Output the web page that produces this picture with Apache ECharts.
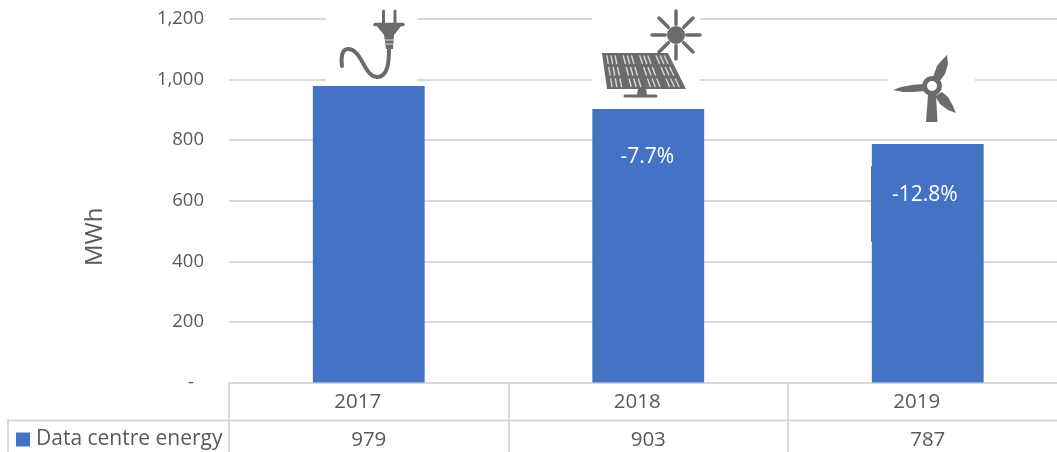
<!DOCTYPE html>
<html><head><meta charset="utf-8">
<style>html,body{margin:0;padding:0;background:#fff}#c{width:1057px;height:452px}</style>
<script src="https://cdn.jsdelivr.net/npm/echarts@6/dist/echarts.min.js"></script>
</head><body><div id="c"></div>
<script>
const categories = ['2017', '2018', '2019'];
const energy = [979, 903, 787];
const changes = ['', '-7.7%', '-12.8%'];
const seriesName = 'Data centre energy';
const yTitle = 'MWh';

const FONT = '"Open Sans", sans-serif', TXT = '#595959', GRID = '#d9d9d9', BLUE = '#4472c4', ICON = '#6b6b6b';
const chart = echarts.init(document.getElementById('c'), null, {renderer: 'canvas'});

const mask = (x, y, w, h) => ({type: 'rect', z: 5, shape: {x, y, width: w, height: h}, style: {fill: '#fff'}});
const line = (x1, y1, x2, y2, color, w) => ({type: 'line', z: 6, shape: {x1, y1, x2, y2}, style: {stroke: color, lineWidth: w, lineCap: 'round'}});
const poly = (points, fill) => ({type: 'polygon', z: 6, shape: {points}, style: {fill: fill || ICON}});
const circle = (cx, cy, r, fill) => ({type: 'circle', z: 7, shape: {cx, cy, r}, style: {fill}});
const bez = (x1, y1, cpx1, cpy1, cpx2, cpy2, x2, y2, w) => ({type: 'bezierCurve', z: 6, shape: {x1, y1, cpx1, cpy1, cpx2, cpy2, x2, y2}, style: {fill: 'none', stroke: ICON, lineWidth: w, lineCap: 'round'}});

// plug
const plug = [
  mask(326, 0, 91, 84),
  line(383.5, 11, 383.5, 23, ICON, 3), line(395, 11, 395, 23, ICON, 3),
  line(375, 24.5, 403, 24.5, ICON, 3.5),
  poly([[376, 25], [402, 25], [394, 35], [384, 35]]),
  poly([[384, 35], [394, 35], [393, 49], [386, 49]]),
  line(384, 40, 394, 40, '#ddd', 1), line(384, 44, 394, 44, '#ddd', 1),
  bez(389, 49, 389, 62, 388, 77, 377, 77, 4),
  bez(377, 77, 364, 77, 362, 49, 348, 49, 4),
  bez(348, 49, 341, 49, 341, 60, 342, 66, 4)
];
// solar panel + sun
const sun = [mask(592, 12, 108, 92), circle(676, 35, 9, ICON)];
[[-24, 0], [24, 0], [0, -24], [0, 24], [-17, -17], [17, -17], [-17, 17], [17, 17]].forEach(([dx, dy]) => {
  sun.push(line(676 + dx * 0.45, 35 + dy * 0.45, 676 + dx, 35 + dy, ICON, 3.5));
});
sun.push(poly([[602, 53], [668, 53], [686, 89], [607, 89]]));
sun.push(poly([[638, 89], [646, 89], [647, 95], [637, 95]]));
sun.push(line(625, 96, 656, 96, ICON, 3));
for (let r = 0; r < 3; r++) {
  const y0 = 56 + r * 11.5, y1 = y0 + 7.5;
  const f = y => [602.5 + (y - 53) * 0.14, 667 + (y - 53) * 0.5];
  for (let c = 0; c < 4; c++) for (let k = 0; k < 3; k++) {
    const t = (c + (k + 1) / 4) / 4;
    const a = f(y0), b = f(y1);
    sun.push(line(a[0] + (a[1] - a[0]) * t, y0, b[0] + (b[1] - b[0]) * t, y1, '#d8d8d8', 1.4));
  }
}
// wind turbine
const wind = [
  mask(888, 44, 87, 92),
  poly([[928, 95], [936, 95], [937.5, 122], [926, 122]]),
  poly([[933, 77], [937, 66], [942, 60], [947, 55], [948, 64], [945, 74], [939, 82]]),
  poly([[923, 84], [912, 85], [901, 87], [893, 90], [903, 92], [914, 92], [924, 91]]),
  poly([[942, 92], [948, 97], [953, 106], [956, 113], [948, 110], [940, 104], [935, 96]]),
  circle(932, 86, 10, ICON), circle(932, 86, 5, '#fff')
];

chart.setOption({
  animation: false,
  textStyle: {fontFamily: FONT},
  grid: {left: 229, top: 19, width: 838.5, height: 363.5, containLabel: false, outerBoundsMode: 'none'},
  legend: {
    left: 12, top: 429, itemWidth: 14, itemHeight: 14, itemGap: 0, padding: [0, 0, 0, 4],
    textStyle: {color: TXT, fontSize: 21, fontFamily: FONT, padding: [0, 0, 0, 1]},
    data: [{name: seriesName, icon: 'rect'}]
  },
  xAxis: [{
    type: 'category', data: categories, position: 'bottom',
    axisLine: {show: true, lineStyle: {color: GRID, width: 2}},
    axisTick: {show: true, length: 70, lineStyle: {color: GRID, width: 2}},
    axisLabel: {color: TXT, fontSize: 20.5, margin: 9, padding: [0, 22, 0, 0], fontFamily: FONT}
  }, {
    type: 'category', data: energy.map(String), position: 'bottom',
    axisLine: {show: false}, axisTick: {show: false},
    axisLabel: {color: TXT, fontSize: 20.5, margin: 47, fontFamily: FONT}
  }],
  yAxis: {
    type: 'value', min: 0, max: 1200, interval: 200,
    name: yTitle, nameLocation: 'middle', nameGap: 122, nameRotate: 90,
    nameTextStyle: {color: TXT, fontSize: 24, fontFamily: FONT, padding: [0, 72, 0, 0]},
    axisLine: {show: false}, axisTick: {show: false},
    axisLabel: {
      color: TXT, fontSize: 18.5, margin: 25, fontFamily: FONT,
      formatter: v => v === 0 ? '{d|-}' : v.toLocaleString('en-US'),
      rich: {d: {color: TXT, fontSize: 18.5, padding: [0, 10, 0, 0], fontFamily: FONT}}
    },
    splitLine: {show: true, lineStyle: {color: GRID, width: 2}}
  },
  series: [{
    name: seriesName, type: 'bar', xAxisIndex: 0, barWidth: '40%',
    itemStyle: {color: BLUE},
    data: energy.map((v, i) => ({
      value: v,
      label: {
        show: !!changes[i], formatter: changes[i], position: 'insideTop', distance: 38,
        offset: i === 2 ? [-3, 2] : [-1, 0], color: '#fff', fontSize: 21, fontFamily: FONT
      }
    }))
  }],
  graphic: [
    line(8, 420.5, 1057, 420.5, GRID, 2), line(8, 420, 8, 452, GRID, 2),
    ...plug, ...sun, ...wind,
    {type: 'rect', z: 4, shape: {x: 871, y: 166, width: 3, height: 76}, style: {fill: BLUE}}
  ]
});
</script></body></html>
